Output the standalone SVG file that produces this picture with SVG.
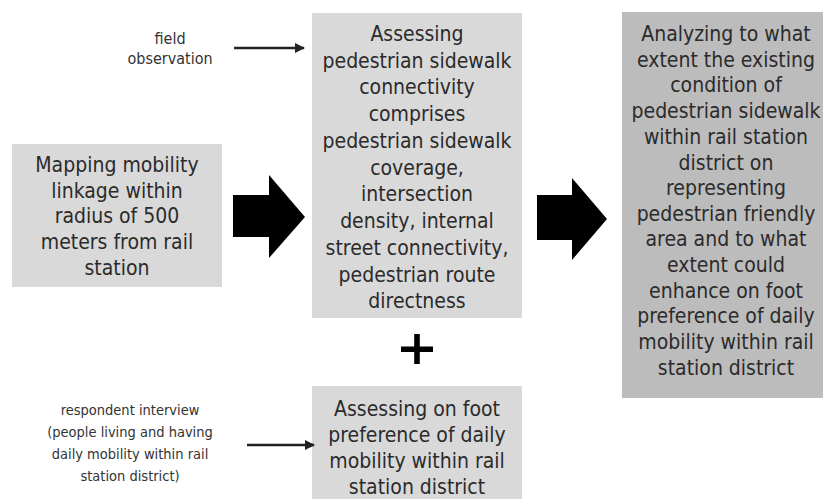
<svg xmlns="http://www.w3.org/2000/svg" width="823" height="499" viewBox="0 0 823 499">
<style>
.box{fill:#d9d9d9}
.dark{fill:#bcbcbc}
.t{font-family:"DejaVu Sans Condensed","Liberation Sans",sans-serif;font-size:21px;fill:#2b2b2b;text-anchor:middle}
.s{font-family:"DejaVu Sans Condensed","Liberation Sans",sans-serif;font-size:14.5px;fill:#333;text-anchor:middle}
.f{font-size:16px}
.ln{stroke:#222;stroke-width:2.5;fill:none}
.blk{fill:#000}
</style>
<defs>
<marker id="ah" viewBox="0 0 10 10" refX="9" refY="5" markerWidth="4" markerHeight="4" orient="auto" markerUnits="strokeWidth">
<path d="M0,0 L10,5 L0,10 z" fill="#222"/>
</marker>
</defs>
<rect width="823" height="499" fill="#fff"/>
<g id="field-observation">
<text class="s f" x="170" y="44">field</text>
<text class="s f" x="170" y="64">observation</text>
</g>
<g id="respondent-interview">
<text class="s" x="130" y="415">respondent interview</text>
<text class="s" x="130" y="437">(people living and having</text>
<text class="s" x="130" y="459">daily mobility within rail</text>
<text class="s" x="130" y="481">station district)</text>
</g>
<g id="mapping">
<rect class="box" x="12" y="144" width="210" height="143"/>
<text class="t" x="117" y="172">Mapping mobility</text>
<text class="t" x="117" y="198">linkage within</text>
<text class="t" x="117" y="223">radius of 500</text>
<text class="t" x="117" y="249">meters from rail</text>
<text class="t" x="117" y="275">station</text>
</g>
<g id="assessing-connectivity">
<rect class="box" x="312" y="13" width="210" height="305"/>
<text class="t" x="417" y="41">Assessing</text>
<text class="t" x="417" y="68">pedestrian sidewalk</text>
<text class="t" x="417" y="94">connectivity</text>
<text class="t" x="417" y="121">comprises</text>
<text class="t" x="417" y="148">pedestrian sidewalk</text>
<text class="t" x="417" y="175">coverage,</text>
<text class="t" x="417" y="201">intersection</text>
<text class="t" x="417" y="228">density, internal</text>
<text class="t" x="417" y="255">street connectivity,</text>
<text class="t" x="417" y="282">pedestrian route</text>
<text class="t" x="417" y="308">directness</text>
</g>
<g id="assessing-foot">
<rect class="box" x="312" y="386" width="210" height="113"/>
<text class="t" x="417" y="416">Assessing on foot</text>
<text class="t" x="417" y="442">preference of daily</text>
<text class="t" x="417" y="468">mobility within rail</text>
<text class="t" x="417" y="494">station district</text>
</g>
<g id="analyzing">
<rect class="dark" x="622" y="12" width="201" height="386"/>
<text class="t" x="726" y="41">Analyzing to what</text>
<text class="t" x="726" y="67">extent the existing</text>
<text class="t" x="726" y="92">condition of</text>
<text class="t" x="726" y="118">pedestrian sidewalk</text>
<text class="t" x="726" y="144">within rail station</text>
<text class="t" x="726" y="170">district on</text>
<text class="t" x="726" y="195">representing</text>
<text class="t" x="726" y="221">pedestrian friendly</text>
<text class="t" x="726" y="246">area and to what</text>
<text class="t" x="726" y="272">extent could</text>
<text class="t" x="726" y="298">enhance on foot</text>
<text class="t" x="726" y="323">preference of daily</text>
<text class="t" x="726" y="349">mobility within rail</text>
<text class="t" x="726" y="375">station district</text>
</g>
<g id="connectors">
<line class="ln" x1="234" y1="48" x2="304" y2="48" marker-end="url(#ah)"/>
<line class="ln" x1="247" y1="445" x2="314" y2="445" marker-end="url(#ah)"/>
<path class="blk" d="M233,195 L269,195 L269,175 L305,217 L269,258 L269,237 L233,237 Z"/>
<path class="blk" d="M537,195 L572,195 L572,178 L607,219 L572,260 L572,240 L537,240 Z"/>
<path class="blk" d="M401,346.5 H433 V352 H401 Z M414.2,334 H419.8 V364 H414.2 Z"/>
</g>
</svg>
